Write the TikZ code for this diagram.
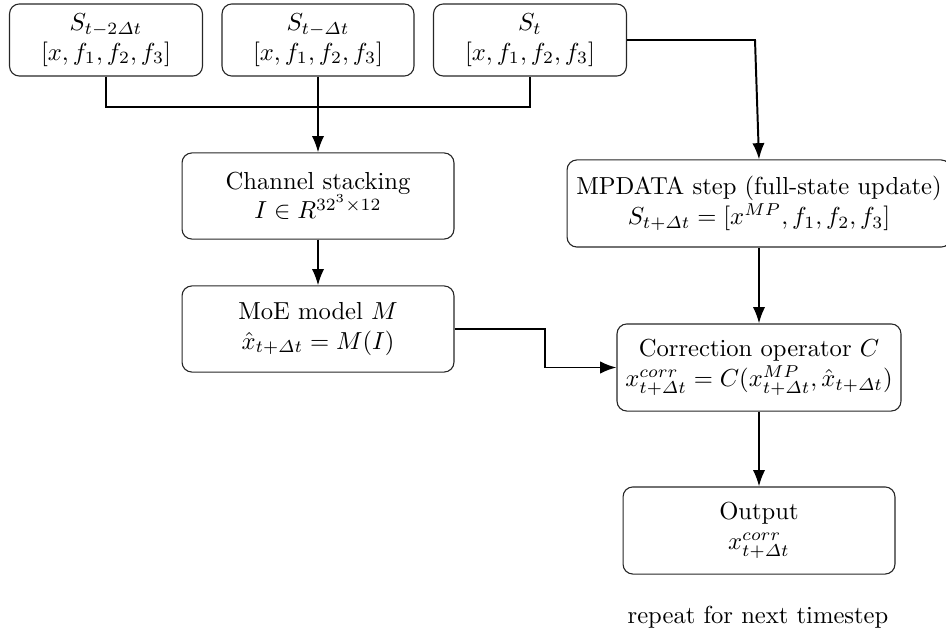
\documentclass[tikz,border=0pt]{standalone}
\usepackage{amsmath}
\usetikzlibrary{arrows.meta}
\begin{document}
\begin{tikzpicture}[x=0.4064pt,y=-0.4064pt,
  box/.style={draw=black!85, line width=0.45pt, rounded corners=4pt, align=center, inner sep=2pt},
  conn/.style={line width=0.8pt, draw=black},
  arr/.style={conn, -{Latex[length=6.6pt,width=5pt]}}]
\useasboundingbox (0,0) rectangle (946,631);
% top state boxes
\node[box, minimum width=78.4pt, minimum height=29.3pt] (b1) at (106,40) {$S_{t-2\varDelta t}$\\$[x, f_1, f_2, f_3]$};
\node[box, minimum width=78.0pt, minimum height=29.3pt] (b2) at (318,40) {$S_{t-\varDelta t}$\\$[x, f_1, f_2, f_3]$};
\node[box, minimum width=78.4pt, minimum height=29.3pt] (b3) at (530,40) {$S_{t}$\\$[x, f_1, f_2, f_3]$};
% left column
\node[box, minimum width=110.5pt, minimum height=35pt] (cs) at (318,196) {Channel stacking\\$I \in R^{32^3\times 12}$};
\node[box, minimum width=110.5pt, minimum height=35pt] (moe) at (318,329) {MoE model $M$\\$\hat{x}_{t+\varDelta t} = M(I)$};
% right column
\node[box, minimum width=156pt, minimum height=35.4pt] (mp) at (759,203.5) {MPDATA step (full-state update)\\$S_{t+\varDelta t} = [x^{MP}, f_1, f_2, f_3]$};
\node[box, minimum width=115.4pt, minimum height=35.4pt] (corr) at (759,367.5) {Correction operator $C$\\$x^{corr}_{t+\varDelta t} = C(x^{MP}_{t+\varDelta t}, \hat{x}_{t+\varDelta t})$};
\node[box, minimum width=110.5pt, minimum height=35.4pt] (out) at (759,530.5) {Output\\$x^{corr}_{t+\varDelta t}$};
\node (rep) at (758,617) {repeat for next timestep};
% connectors
\coordinate (j) at (318,107);
\coordinate (k) at (755,40);
\coordinate (m) at (545,367);
\draw[conn] (b1.south) |- (j) -| (b3.south);
\draw[arr] (b2.south) -- (cs.north);
\draw[arr] (cs.south) -- (moe.north);
\draw[arr] (b3.east) -- (k) -- (mp.north);
\draw[arr] (mp.south) -- (corr.north);
\draw[arr] (moe.east) -- (moe.east -| m) |- (corr.west);
\draw[arr] (corr.south) -- (out.north);
\end{tikzpicture}
\end{document}
